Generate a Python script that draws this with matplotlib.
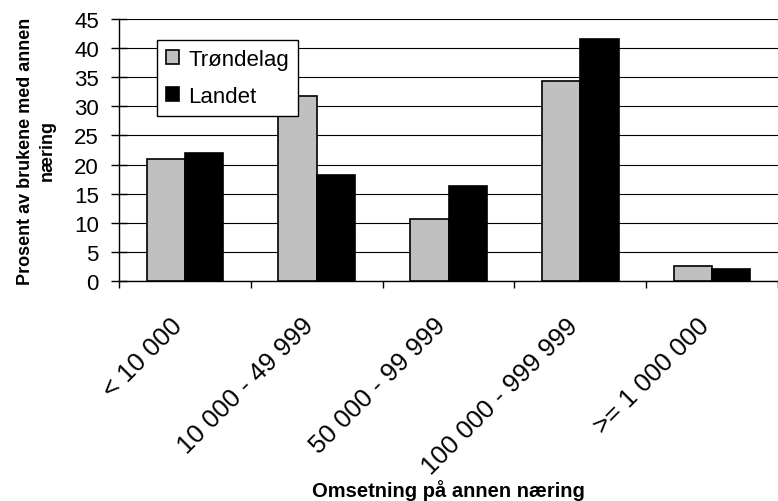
import matplotlib
matplotlib.use("Agg")
import matplotlib.pyplot as plt
import matplotlib.transforms as mtransforms
import numpy as np

categories = ["< 10 000", "10 000 - 49 999", "50 000 - 99 999", "100 000 - 999 999", ">= 1 000 000"]
trondelag = [21.0, 31.7, 10.6, 34.3, 2.6]
landet = [22.0, 18.2, 16.3, 41.5, 2.0]
series_names = ["Trøndelag", "Landet"]
yticks = [0, 5, 10, 15, 20, 25, 30, 35, 40, 45]

plt.rcParams['font.family'] = ['Liberation Sans', 'DejaVu Sans']

fig = plt.figure(figsize=(7.78, 5.02), dpi=100)
ax = fig.add_axes([119/778, 1-282/502, 1-119/778, (282-20)/502])

x = np.arange(len(categories))
w = 0.29
ax.bar(x - w/2, trondelag, w, color='#c0c0c0', edgecolor='black', linewidth=1.2, label=series_names[0], zorder=3)
ax.bar(x + w/2, landet, w, color='black', edgecolor='black', linewidth=1.2, label=series_names[1], zorder=3)

ax.set_ylim(0, 45)
ax.set_xlim(-0.5, (778-119)/133.5 - 0.5)
ax.set_yticks(yticks)
ax.yaxis.grid(True, color='black', linewidth=0.8, zorder=0)
ax.set_axisbelow(True)

for s in ['top', 'right']:
    ax.spines[s].set_visible(False)
ax.spines['left'].set_linewidth(1.0)
ax.spines['bottom'].set_linewidth(1.0)

ax.tick_params(axis='y', direction='inout', length=11, width=1, labelsize=16, pad=9)
ax.set_xticks(x)
ax.set_xticklabels(categories, rotation=45, ha='right', va='top', rotation_mode='anchor', fontsize=18.5)
ax.tick_params(axis='x', which='major', length=0, pad=23)
offset = mtransforms.ScaledTranslation(-15/100, 0, fig.dpi_scale_trans)
for lbl in ax.get_xticklabels():
    lbl.set_transform(lbl.get_transform() + offset)
ax.set_xticks(np.arange(-0.5, len(categories) - 0.4, 1.0), minor=True)
ax.tick_params(axis='x', which='minor', direction='out', length=5, width=1)

ax.set_ylabel("Prosent av brukene med annen\nnæring", fontsize=13, fontweight='bold', linespacing=1.35)
ax.yaxis.set_label_coords((36-119)/659, 0.5)
ax.yaxis.label.set_va('center')
ax.set_xlabel("Omsetning på annen næring", fontsize=14.5, fontweight='bold')
ax.xaxis.set_label_coords(0.5, (282-491)/262)
ax.xaxis.label.set_va('center')

leg = ax.legend(loc='upper left', bbox_to_anchor=((156.7-119)/659, (282-40.7)/262), borderaxespad=0,
                fancybox=False, edgecolor='black', framealpha=1, fontsize=16,
                handlelength=0.6, handleheight=0.55, handletextpad=0.4, labelspacing=0.72,
                borderpad=0.42)
leg.get_frame().set_linewidth(1.0)

fig.savefig("out.png", dpi=100)
